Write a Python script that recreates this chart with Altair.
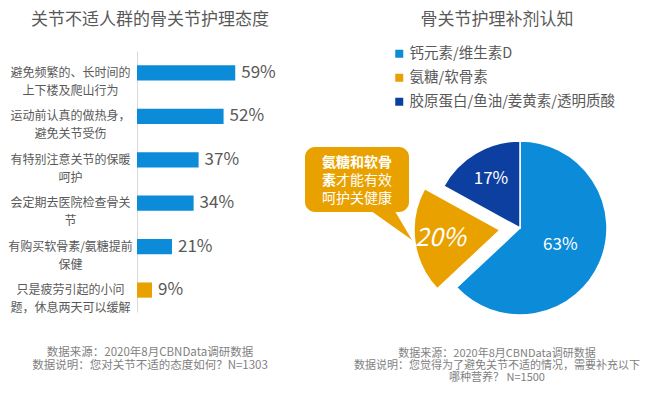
import altair as alt
import pandas as pd

# ---------------- data ----------------
attitudes = [
    "避免频繁的、长时间的\n上下楼及爬山行为",
    "运动前认真的做热身，\n避免关节受伤",
    "有特别注意关节的保暖\n呵护",
    "会定期去医院检查骨关\n节",
    "有购买软骨素/氨糖提前\n保健",
    "只是疲劳引起的小问\n题，休息两天可以缓解",
]
attitude_pct = [59, 52, 37, 34, 21, 9]

supplements = ["钙元素/维生素D", "氨糖/软骨素", "胶原蛋白/鱼油/姜黄素/透明质酸"]
supplement_pct = [63, 20, 17]

left_title = "关节不适人群的骨关节护理态度"
right_title = "骨关节护理补剂认知"
left_notes = "数据来源：2020年8月CBNData调研数据\n数据说明：您对关节不适的态度如何？N=1303"
right_notes = "数据来源：2020年8月CBNData调研数据\n数据说明：您觉得为了避免关节不适的情况，需要补充以下\n哪种营养？ N=1500"
callout_bold_1 = "氨糖和软骨"
callout_bold_2 = "素"
callout_norm_2 = "才能有效"
callout_norm_3 = "呵护关健康"

# ---------------- style ----------------
FONT = "Noto Sans CJK SC"
BLUE = "#0b8bd8"
ORANGE = "#e9a100"
NAVY = "#0d3fa1"
GRAY = "#595959"
NOTE = "#7f7f7f"

bars_df = pd.DataFrame({"attitude": attitudes, "pct": attitude_pct})
pie_df = pd.DataFrame({"supp": supplements, "pct": supplement_pct, "order": list(range(len(supplements)))})
dummy = pd.DataFrame({"a": [0]})

# ---------------- bar chart ----------------
ybar = alt.Y(
    "attitude:N",
    sort=attitudes,
    scale=alt.Scale(range=[43, 304], paddingInner=0.65, paddingOuter=0.33),
    axis=alt.Axis(
        title=None, ticks=False, tickSize=0, domain=True, domainColor="#d9d9d9",
        domainWidth=1, labelAlign="center", labelBaseline="middle", labelPadding=67,
        labelFontSize=12, labelFont=FONT, labelColor=GRAY, labelLineHeight=18,
        labelExpr="split(datum.label, '\\n')", offset=-129, grid=False, labelLimit=0,
    ),
)
xbar = alt.X("pct:Q", scale=alt.Scale(domain=[0, 100], range=[129, 295.5]), axis=None)

is_last = alt.FieldEqualPredicate(field="attitude", equal=attitudes[-1])
bars = alt.Chart(bars_df).mark_bar().encode(
    x=xbar, y=ybar,
    color=alt.condition(is_last, alt.value(ORANGE), alt.value(BLUE)),
)
bar_labels = alt.Chart(bars_df).transform_calculate(
    lab="datum.pct + '%'"
).mark_text(align="left", baseline="middle", dx=6, fontSize=17, font=FONT, color=GRAY).encode(
    x=xbar, y=ybar, text="lab:N"
)

# ---------------- pie chart ----------------
theta = alt.Theta("pct:Q", stack=True)
order = alt.Order("order:Q")
color = alt.Color(
    "supp:N",
    scale=alt.Scale(domain=supplements, range=[BLUE, ORANGE, NAVY]),
    legend=alt.Legend(
        title=None, orient="none", legendX=384, legendY=38.5, symbolType="square",
        symbolSize=64, symbolStrokeWidth=0, labelFontSize=14.5, labelFont=FONT,
        labelColor=GRAY, rowPadding=9, labelOffset=3, direction="vertical", labelLimit=0,
    ),
)
is_orange = alt.FieldEqualPredicate(field="supp", equal=supplements[1])
is_blue = alt.FieldEqualPredicate(field="supp", equal=supplements[0])
is_navy = alt.FieldEqualPredicate(field="supp", equal=supplements[2])

CX, CY = 512, 220
EX, EY = 492, 222

arcs_main = alt.Chart(pie_df).mark_arc(outerRadius=87, stroke="white", strokeWidth=1.5).encode(
    theta=theta, order=order, color=color,
    opacity=alt.condition(is_orange, alt.value(0), alt.value(1)),
    x=alt.value(CX), y=alt.value(CY),
)
arcs_expl = alt.Chart(pie_df).mark_arc(outerRadius=86, stroke="white", strokeWidth=1.5).encode(
    theta=theta, order=order, color=color,
    opacity=alt.condition(is_orange, alt.value(1), alt.value(0)),
    x=alt.value(EX), y=alt.value(EY),
)


def pie_text(pred, radius, size, cx, cy, italic=False):
    return alt.Chart(pie_df).transform_calculate(
        label="datum.pct + '%'"
    ).mark_text(
        radius=radius, fontSize=size, font=FONT, color="white",
        fontStyle="italic" if italic else "normal", baseline="middle", align="center",
    ).encode(
        theta=theta, order=order, text="label:N",
        opacity=alt.condition(pred, alt.value(1), alt.value(0)),
        x=alt.value(cx), y=alt.value(cy),
    )


lab_blue = pie_text(is_blue, 44, 17, CX, CY)
lab_navy = pie_text(is_navy, 57, 17, CX, CY)
lab_orange = pie_text(is_orange, 60, 25, EX, EY, italic=True)

# ---------------- callout ----------------
bubble = alt.Chart(dummy).mark_rect(cornerRadius=10, color=ORANGE).encode(
    x=alt.value(297), x2=alt.value(401), y=alt.value(139), y2=alt.value(204)
)
tail = alt.Chart(dummy).mark_point(
    shape="M -1 -0.8 L 0.16 -0.8 L 1 0.62 Z", size=2025, filled=True,
    color=ORANGE, opacity=1, strokeWidth=0,
).encode(x=alt.value(381.5), y=alt.value(218))


def txt(text, x, y, size, color, align="center", weight="normal", lh=None):
    kw = dict(text=text, fontSize=size, font=FONT, color=color, align=align,
              baseline="middle", fontWeight=weight)
    if lh is not None:
        kw["lineHeight"] = lh
        kw["lineBreak"] = "\n"
    return alt.Chart(dummy).mark_text(**kw).encode(x=alt.value(x), y=alt.value(y))


c1 = txt(callout_bold_1, 314, 155, 14, "white", align="left", weight="bold")
c2a = txt(callout_bold_2, 314, 173, 14, "white", align="left", weight="bold")
c2b = txt(callout_norm_2, 328, 173, 14, "white", align="left")
c3 = txt(callout_norm_3, 314, 191, 14, "white", align="left")

t_left = txt(left_title, 142, 11.5, 17, GRAY)
t_right = txt(right_title, 489, 11.5, 17, GRAY)
n_left = txt(left_notes, 142, 345, 11.5, NOTE, lh=13)
n_right = txt(right_notes, 489, 346, 11, NOTE, lh=12)

chart = alt.layer(
    bars, bar_labels,
    arcs_main, arcs_expl, lab_blue, lab_navy, lab_orange,
    bubble, tail, c1, c2a, c2b, c3,
    t_left, t_right, n_left, n_right,
).properties(
    width=635, height=381,
    autosize=alt.AutoSizeParams(type="none"),
    padding=0,
).configure_view(stroke=None)

chart.save("out.html", embed_options={"renderer": "svg", "actions": False})
